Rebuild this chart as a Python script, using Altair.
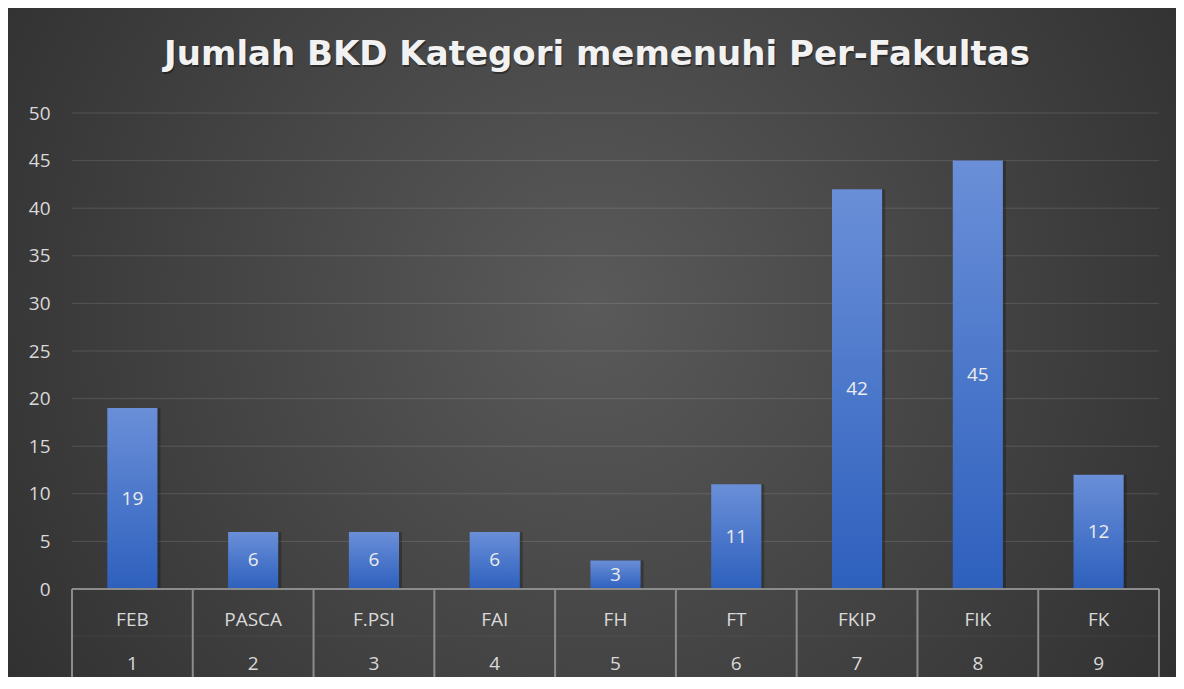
import altair as alt
import pandas as pd

# ---- data ----
fakultas = ["FEB", "PASCA", "F.PSI", "FAI", "FH", "FT", "FKIP", "FIK", "FK"]
nomor = ["1", "2", "3", "4", "5", "6", "7", "8", "9"]
jumlah = [19, 6, 6, 6, 3, 11, 42, 45, 12]
y_ticks = [0, 5, 10, 15, 20, 25, 30, 35, 40, 45, 50]
title_text = "Jumlah BKD Kategori memenuhi Per-Fakultas"

# ---- layout ----
W, H = 1087, 476
PL, PT, PR, PB = 64, 105, 17, 88
FONT = "Open Sans"
LABEL_COLOR = "#d9d9d9"
AXIS_COLOR = "#8c8c8c"

df = pd.DataFrame({"fakultas": fakultas, "nomor": nomor, "jumlah": jumlah})
grid_df = pd.DataFrame({"jumlah": y_ticks[1:]})
one = pd.DataFrame({"a": [0]})

x_scale = alt.Scale(paddingInner=0, paddingOuter=0)
y_scale = alt.Scale(domain=[0, 50], nice=False)
y_axis = alt.Axis(values=y_ticks, domain=False, ticks=False, grid=False,
                  labelColor=LABEL_COLOR, labelFontSize=19, labelFont=FONT,
                  labelPadding=22, title=None, zindex=1)

X = alt.X("fakultas:N", sort=fakultas, scale=x_scale, axis=None)

bg_grad = alt.RadialGradient(
    gradient="radial",
    stops=[alt.GradientStop(offset=0, color="#5a5a5a"),
           alt.GradientStop(offset=1, color="#262626")],
    x1=0.5, y1=0.47, x2=0.5, y2=0.47, r1=0, r2=0.75,
)
bar_grad = alt.LinearGradient(
    gradient="linear",
    stops=[alt.GradientStop(offset=0, color="#6a8fd8"),
           alt.GradientStop(offset=1, color="#2d60bd")],
    x1=0, x2=0, y1=0, y2=1,
)

background = alt.Chart(one).mark_rect(fill=bg_grad).encode(
    x=alt.value(-PL), x2=alt.value(W + PR),
    y=alt.value(-PT), y2=alt.value(H + PB),
)

grid = alt.Chart(grid_df).mark_rule(color="white", opacity=0.13, strokeWidth=1).encode(
    y=alt.Y("jumlah:Q", scale=y_scale, axis=y_axis),
    x=alt.value(0), x2=alt.value(W),
)

shadow = alt.Chart(df).mark_bar(width=alt.RelativeBandSize(0.415), color="black",
                                opacity=0.25, xOffset=3).encode(
    x=X, y=alt.Y("jumlah:Q", scale=y_scale, axis=y_axis),
)

bars = alt.Chart(df).mark_bar(width=alt.RelativeBandSize(0.415), color=bar_grad).encode(
    x=X, y=alt.Y("jumlah:Q", scale=y_scale, axis=y_axis),
)

values = alt.Chart(df).transform_calculate(mid="datum.jumlah / 2").mark_text(
    color="#ececec", fontSize=19, font=FONT, baseline="middle"
).encode(
    x=X, y=alt.Y("mid:Q", scale=y_scale, axis=y_axis), text="jumlah:Q",
)

zero_line = alt.Chart(one).mark_rule(color=AXIS_COLOR, strokeWidth=2).encode(
    x=alt.value(0), x2=alt.value(W), y=alt.value(H),
)

mid_line = alt.Chart(one).mark_rule(color=AXIS_COLOR, opacity=0.15, strokeWidth=1).encode(
    x=alt.value(0), x2=alt.value(W), y=alt.value(H + 47),
)

separators = alt.Chart(df).mark_rule(color=AXIS_COLOR, strokeWidth=2).encode(
    x=alt.X("fakultas:N", sort=fakultas, scale=x_scale, axis=None, bandPosition=0),
    y=alt.value(H), y2=alt.value(H + 93),
)
last_sep = alt.Chart(one).mark_rule(color=AXIS_COLOR, strokeWidth=2).encode(
    x=alt.value(W), y=alt.value(H), y2=alt.value(H + 93),
)

names = alt.Chart(df).mark_text(color=LABEL_COLOR, fontSize=19, font=FONT,
                                baseline="middle").encode(
    x=X, y=alt.value(H + 31), text="fakultas:N",
)
numbers = alt.Chart(df).mark_text(color=LABEL_COLOR, fontSize=19, font=FONT,
                                  baseline="middle").encode(
    x=X, y=alt.value(H + 75), text="nomor:N",
)

TITLE_FONT = "DejaVu Sans"
title_df = pd.DataFrame({"t": [title_text]})
title_shadow = alt.Chart(title_df).mark_text(
    color="black", opacity=0.35, fontSize=34, fontWeight="bold", font=TITLE_FONT,
    baseline="middle", align="center", dx=1, dy=2,
).encode(x=alt.value(525), y=alt.value(-58), text="t:N")
title = alt.Chart(title_df).mark_text(
    color="#f2f2f2", fontSize=34, fontWeight="bold", font=TITLE_FONT,
    baseline="middle", align="center",
).encode(x=alt.value(525), y=alt.value(-58), text="t:N")

chart = alt.layer(
    background, grid, shadow, bars, values, zero_line, mid_line,
    separators, last_sep, names, numbers, title_shadow, title,
).properties(
    width=W, height=H,
    padding={"left": PL, "top": PT, "right": PR, "bottom": PB},
    autosize=alt.AutoSizeParams(type="none"),
    background="#262626",
).configure_view(stroke=None)

chart.save("out.html", embed_options={"renderer": "svg", "actions": False})
